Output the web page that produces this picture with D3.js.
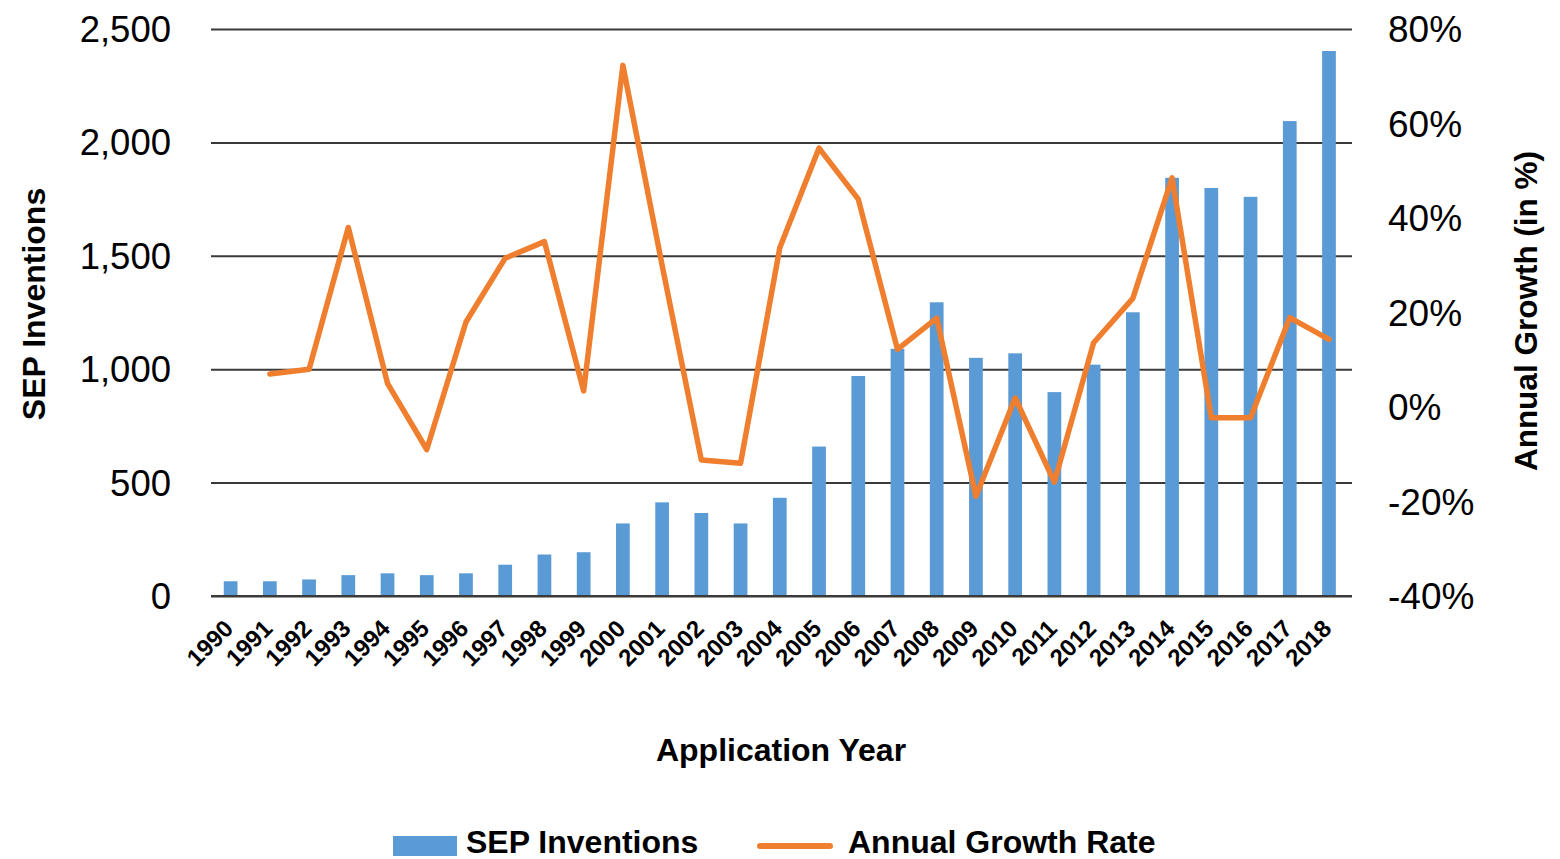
<!DOCTYPE html>
<html>
<head>
<meta charset="utf-8">
<script src="https://cdn.jsdelivr.net/npm/d3@7"></script>
<style>
  html, body { margin: 0; padding: 0; background: #fff; }
  svg { display: block; }
  text { font-family: "Liberation Sans", Arial, Helvetica, sans-serif; fill: #000; }
</style>
</head>
<body>
<svg id="chart" width="1560" height="859"></svg>
<script>
const years = ["1990","1991","1992","1993","1994","1995","1996","1997","1998","1999",
  "2000","2001","2002","2003","2004","2005","2006","2007","2008","2009",
  "2010","2011","2012","2013","2014","2015","2016","2017","2018"];
const sepInventions = [65,65,73,92,100,92,100,138,183,193,
  320,413,366,320,433,659,970,1090,1295,1050,
  1070,899,1020,1251,1844,1799,1760,2094,2403];
const growthRate = [null,7,8,38,5,-9,18,31.5,35,3.4,
  72.3,30,-11.2,-11.9,33.7,54.8,44,12.2,18.8,-18.9,
  1.9,-15.9,13.6,23,48.5,-2.3,-2.3,18.9,14.3];
const leftTicks = [0,500,1000,1500,2000,2500];
const rightTicks = [-40,-20,0,20,40,60,80];

const svg = d3.select("#chart");
const plot = {left: 211, right: 1352, top: 29, bottom: 596};

const x = d3.scaleBand().domain(years).range([211, 1348.6]).paddingInner(0).paddingOuter(0);
const barW = x.bandwidth() * 0.35;
const yL = d3.scaleLinear().domain([0, 2500]).range([plot.bottom, plot.top]);
const yR = d3.scaleLinear().domain([-40, 80]).range([plot.bottom, plot.top]);

// gridlines + left labels
const leftAxis = d3.axisLeft(yL).tickValues(leftTicks).tickSize(-(plot.right - plot.left)).tickPadding(40)
  .tickFormat(d3.format(","));
const gL = svg.append("g").attr("transform", `translate(${plot.left},0)`).call(leftAxis);
gL.select(".domain").remove();
gL.selectAll(".tick line").attr("stroke", "#3a3a3a").attr("stroke-width", 2);
gL.selectAll(".tick text").attr("font-size", 36.5).attr("fill", "#111").attr("dy", "0.34em");

// bars
svg.append("g").selectAll("rect").data(years).join("rect")
  .attr("x", d => x(d) + x.bandwidth()/2 - barW/2)
  .attr("width", barW)
  .attr("y", (d,i) => yL(sepInventions[i]))
  .attr("height", (d,i) => yL(0) - yL(sepInventions[i]))
  .attr("fill", "#5b9bd5");

// baseline on top of bars
svg.append("line").attr("x1", plot.left).attr("x2", plot.right)
  .attr("y1", yL(0)).attr("y2", yL(0)).attr("stroke", "#3a3a3a").attr("stroke-width", 2);

// right axis labels
const rightAxis = d3.axisRight(yR).tickValues(rightTicks).tickSize(0).tickPadding(36)
  .tickFormat(d => d + "%");
const gR = svg.append("g").attr("transform", `translate(${plot.right},0)`).call(rightAxis);
gR.select(".domain").remove();
gR.selectAll(".tick text").attr("font-size", 37).attr("fill", "#111").attr("dy", "0.34em");

// growth line
const lineData = years.map((d,i) => ({year: d, v: growthRate[i]})).filter(d => d.v !== null);
const line = d3.line().x(d => x(d.year) + x.bandwidth()/2).y(d => yR(d.v));
svg.append("path").datum(lineData).attr("d", line)
  .attr("fill", "none").attr("stroke", "#ef7f2e").attr("stroke-width", 5.5)
  .attr("stroke-linejoin", "round").attr("stroke-linecap", "round");

// x tick labels
const xAxis = d3.axisBottom(x).tickSize(0).tickPadding(0);
const gX = svg.append("g").attr("transform", `translate(0,${plot.bottom})`).call(xAxis);
gX.select(".domain").remove();
gX.selectAll(".tick text")
  .attr("font-size", 24).attr("font-weight", "bold").attr("fill", "#000")
  .attr("text-anchor", "end").attr("dy", null).attr("y", 0)
  .attr("transform", "translate(4,34) rotate(-45)");

// axis titles
svg.append("text").attr("transform", "translate(45,304) rotate(-90)")
  .attr("text-anchor", "middle").attr("font-size", 32).attr("font-weight", "bold").text("SEP Inventions");
svg.append("text").attr("transform", "translate(1537,311) rotate(-90)")
  .attr("text-anchor", "middle").attr("font-size", 31.5).attr("font-weight", "bold").text("Annual Growth (in %)");
svg.append("text").attr("x", 781).attr("y", 761)
  .attr("text-anchor", "middle").attr("font-size", 32).attr("font-weight", "bold").text("Application Year");

// legend
const lg = svg.append("g");
lg.append("rect").attr("x", 393).attr("y", 836).attr("width", 64).attr("height", 20).attr("fill", "#5b9bd5");
lg.append("text").attr("x", 466).attr("y", 853).attr("font-size", 32).attr("font-weight", "bold").text("SEP Inventions");
lg.append("line").attr("x1", 760).attr("x2", 830).attr("y1", 846).attr("y2", 846)
  .attr("stroke", "#ef7f2e").attr("stroke-width", 6).attr("stroke-linecap", "round");
lg.append("text").attr("x", 848).attr("y", 853).attr("font-size", 32).attr("font-weight", "bold").text("Annual Growth Rate");
</script>
</body>
</html>
